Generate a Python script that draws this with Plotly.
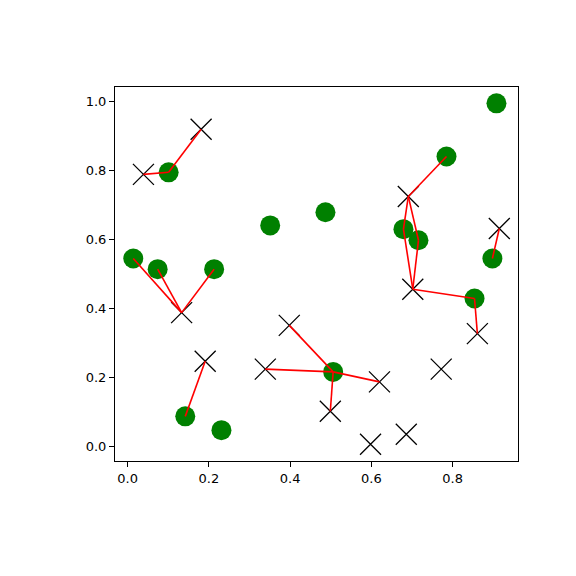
import plotly.graph_objects as go

# green circle points
circle_x = [0.908, 0.785, 0.101, 0.351, 0.487, 0.679, 0.716, 0.014, 0.074, 0.213, 0.898, 0.854, 0.506, 0.142, 0.231]
circle_y = [0.994, 0.840, 0.794, 0.640, 0.678, 0.629, 0.597, 0.544, 0.513, 0.513, 0.544, 0.428, 0.215, 0.086, 0.046]

# black x points
cross_x = [0.181, 0.039, 0.691, 0.915, 0.702, 0.133, 0.398, 0.861, 0.191, 0.339, 0.620, 0.772, 0.499, 0.598, 0.686]
cross_y = [0.919, 0.788, 0.724, 0.631, 0.455, 0.387, 0.350, 0.326, 0.246, 0.223, 0.186, 0.223, 0.101, 0.005, 0.034]

# red links: (circle index, cross index)
links = [(2, 0), (2, 1), (7, 5), (8, 5), (9, 5), (13, 8), (12, 6), (12, 9), (12, 10), (12, 12),
         (1, 2), (5, 2), (5, 4), (6, 2), (6, 4), (11, 4), (11, 7), (10, 3)]

lx, ly = [], []
for ci, xi in links:
    lx += [circle_x[ci], cross_x[xi], None]
    ly += [circle_y[ci], cross_y[xi], None]

fig = go.Figure()
fig.add_trace(go.Scatter(x=circle_x, y=circle_y, mode="markers",
                         marker=dict(color="green", size=20, line=dict(width=0))))
fig.add_trace(go.Scatter(x=cross_x, y=cross_y, mode="markers",
                         marker=dict(symbol="x-thin", size=21, line=dict(color="black", width=1.3))))
fig.add_trace(go.Scatter(x=lx, y=ly, mode="lines", line=dict(color="red", width=1.6)))

axis_common = dict(showgrid=False, zeroline=False, showline=True, mirror=True,
                   linecolor="black", linewidth=1, ticks="outside", ticklen=5,
                   tickcolor="black", tickfont=dict(family="DejaVu Sans", size=13, color="black"))
fig.update_xaxes(range=[-0.031, 0.961], tickvals=[0, 0.2, 0.4, 0.6, 0.8], tickformat=".1f", **axis_common)
fig.update_yaxes(range=[-0.0435, 1.0415], tickvals=[0, 0.2, 0.4, 0.6, 0.8, 1.0], tickformat=".1f", **axis_common)
fig.update_layout(width=576, height=576, showlegend=False,
                  margin=dict(l=107, r=66, t=79, b=123),
                  plot_bgcolor="white", paper_bgcolor="white")
fig.write_html("out.html")
